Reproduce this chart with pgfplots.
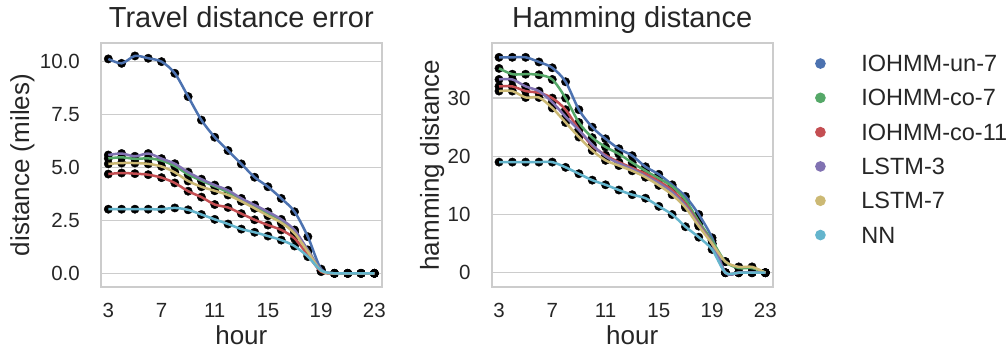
\documentclass[border=0pt]{standalone}
\usepackage{fontspec}
\setmainfont{Liberation Sans}
\usepackage{pgfplots}
\pgfplotsset{compat=1.18}
\usepackage{pgfplotstable}

\definecolor{sblue}{HTML}{4C72B0}
\definecolor{sgreen}{HTML}{55A868}
\definecolor{sred}{HTML}{C44E52}
\definecolor{spurple}{HTML}{8172B2}
\definecolor{syellow}{HTML}{CCB974}
\definecolor{scyan}{HTML}{64B5CD}
\definecolor{txt}{HTML}{262626}
\definecolor{gridc}{HTML}{CCCCCC}

\pgfplotstableread{
h un7 co7 co11 lstm3 lstm7 nn
3 10.13 5.43 4.69 5.59 5.17 3.03
4 9.92 5.48 4.74 5.66 5.21 3.03
5 10.27 5.41 4.71 5.53 5.21 3.03
6 10.16 5.43 4.66 5.66 5.17 3.03
7 10.00 5.33 4.52 5.42 5.05 3.03
8 9.45 5.07 4.27 5.18 4.77 3.09
9 8.35 4.67 3.88 4.78 4.36 3.00
10 7.24 4.38 3.60 4.45 4.09 2.78
11 6.43 4.11 3.25 4.17 3.90 2.55
12 5.80 3.83 3.11 3.92 3.70 2.33
13 5.17 3.46 2.82 3.54 3.40 2.09
14 4.54 3.15 2.53 3.23 3.07 1.94
15 4.09 2.84 2.28 2.91 2.72 1.76
16 3.54 2.49 2.05 2.55 2.39 1.57
17 2.91 1.97 1.65 2.05 1.89 1.29
18 1.73 1.10 0.87 1.10 1.02 0.79
19 0.20 0.12 0.08 0.15 0.12 0.13
20 0 0 0 0 0 0
21 0 0 0 0 0 0
22 0 0 0 0 0 0
23 0 0 0 0 0 0
}\leftdata

\pgfplotstableread{
h un7 co7 co11 lstm3 lstm7 nn
3 37.0 35.1 32.0 33.2 31.2 19.0
4 37.0 34.1 32.0 33.2 31.2 19.0
5 37.0 34.1 31.2 32.0 30.1 19.0
6 36.2 34.0 30.9 31.2 30.1 19.0
7 35.2 33.2 30.0 29.3 28.3 19.0
8 32.8 30.0 28.0 26.8 25.8 18.1
9 28.0 25.8 24.6 24.5 23.3 17.0
10 25.0 23.2 21.8 22.0 21.0 15.9
11 23.0 21.6 20.2 20.0 19.3 15.1
12 21.3 20.4 19.0 18.8 18.4 14.2
13 20.1 18.9 18.0 17.8 17.5 13.4
14 18.2 17.5 17.0 16.6 16.4 12.8
15 16.9 16.2 15.7 15.4 15.0 11.4
16 15.1 14.8 14.2 13.8 13.4 10.0
17 13.1 12.5 11.8 11.5 11.2 7.9
18 10.0 8.8 8.4 8.2 8.0 6.1
19 6.0 5.5 5.0 5.0 5.0 4.0
20 0.0 1.9 0.0 0.0 1.9 0.0
21 0.0 0.8 0.0 0.0 1.0 0.0
22 0.0 0.8 0.0 0.0 1.0 0.0
23 0 0 0 0 0 0
}\rightdata

\pgfplotsset{
  sb/.style={
    scale only axis,
    anchor=south west,
    height=243.33pt,
    xmin=2.45, xmax=23.55,
    xtick={3,7,11,15,19,23},
    enlargelimits=false,
    axis line style={draw=gridc, line width=1.9pt},
    ymajorgrids,
    grid style={draw=gridc, line width=1.5pt},
    major tick length=0pt,
    /pgf/number format/assume math mode=true,
    tick label style={font=\fontsize{20.5}{24}\selectfont, text=txt},
    xticklabel style={anchor=base, inner sep=0pt, yshift=-30.7pt},
    yticklabel style={anchor=east, inner sep=0pt, xshift=-21pt},
    label style={font=\fontsize{26}{30}\selectfont, text=txt},
    xlabel style={at={(axis description cs:0.5,0)}, anchor=base, yshift=-58pt},
    title style={font=\fontsize{29}{33}\selectfont, text=txt, at={(axis description cs:0.5,1)}, anchor=base, yshift=10pt},
    xlabel={hour},
    clip=false,
    clip marker paths=true,
  },
  dots/.style={only marks, mark=*, mark size=4.2pt, black, forget plot},
  ln/.style={#1, line width=2.5pt, smooth, no marks},
}

\begin{document}
\begin{tikzpicture}
\useasboundingbox (0pt,0pt) rectangle (1008pt,349pt);
\begin{axis}[sb, at={(101pt,62.33pt)}, width=280.67pt,
  ymin=-0.63, ymax=10.865,
  ytick={0,2.5,5,7.5,10},
  yticklabel style={/pgf/number format/.cd, fixed, fixed zerofill, precision=1},
  title={Travel distance error},
  ylabel={distance (miles)},
  ylabel style={at={(axis description cs:-0.2797,0.5)}, anchor=center},
]
\foreach \c in {un7,co7,co11,lstm3,lstm7,nn}{
  \addplot[dots] table[x=h,y=\c] {\leftdata};
}
\addplot[ln=sblue] table[x=h,y=un7] {\leftdata};
\addplot[ln=sgreen] table[x=h,y=co7] {\leftdata};
\addplot[ln=sred] table[x=h,y=co11] {\leftdata};
\addplot[ln=spurple] table[x=h,y=lstm3] {\leftdata};
\addplot[ln=syellow] table[x=h,y=lstm7] {\leftdata};
\addplot[ln=scyan] table[x=h,y=nn] {\leftdata};
\end{axis}

\begin{axis}[sb, at={(491.67pt,62.33pt)}, width=281pt,
  ymin=-2.4, ymax=39.4,
  ytick={0,10,20,30},
  title={Hamming distance},
  ylabel={hamming distance},
  ylabel style={at={(axis description cs:-0.212,0.5)}, anchor=center},
  legend cell align=left,
  legend image code/.code={\fill[#1] (4pt,0pt) circle (4pt);},
  legend style={at={(axis description cs:1,1)}, anchor=north west,
    xshift=42.3pt, yshift=-12pt, draw=none, fill=none, inner sep=0pt,
    row sep=18.3pt, column sep=35.7pt,
    font=\fontsize{23.5}{27}\selectfont, text=txt,
    nodes={inner sep=0pt, text height=16pt, text depth=0pt}},
]
\foreach \c in {un7,co7,co11,lstm3,lstm7,nn}{
  \addplot[dots] table[x=h,y=\c] {\rightdata};
}
\addplot[ln=sblue] table[x=h,y=un7] {\rightdata};
\addlegendentry{IOHMM-un-7}
\addplot[ln=sgreen] table[x=h,y=co7] {\rightdata};
\addlegendentry{IOHMM-co-7}
\addplot[ln=sred] table[x=h,y=co11] {\rightdata};
\addlegendentry{IOHMM-co-11}
\addplot[ln=spurple] table[x=h,y=lstm3] {\rightdata};
\addlegendentry{LSTM-3}
\addplot[ln=syellow] table[x=h,y=lstm7] {\rightdata};
\addlegendentry{LSTM-7}
\addplot[ln=scyan] table[x=h,y=nn] {\rightdata};
\addlegendentry{NN}
\end{axis}
\end{tikzpicture}
\end{document}
